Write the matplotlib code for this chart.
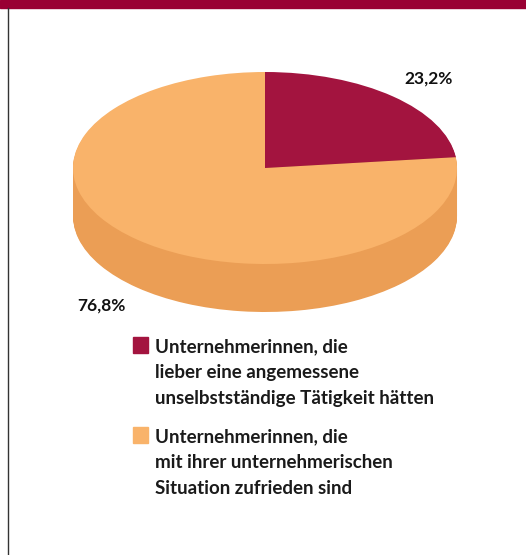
import matplotlib.pyplot as plt
import numpy as np
from matplotlib.patches import Rectangle
from matplotlib.lines import Line2D

plt.rcParams['font.family'] = ['Lato', 'DejaVu Sans']

shares = [23.2, 76.8]
share_labels = ['23,2%', '76,8%']
top_colors = ['#a3143f', '#f9b36a']
side_colors = ['#86102f', '#eb9e55']
legend_labels = [
    'Unternehmerinnen, die\nlieber eine angemessene\nunselbstständige Tätigkeit hätten',
    'Unternehmerinnen, die\nmit ihrer unternehmerischen\nSituation zufrieden sind',
]

W, H = 526, 555
cx, cy, rx, ry = 265, 168, 192, 96   # pie centre / radii in pixels
depth = 0.5                           # side height in y data units

fig = plt.figure(figsize=(W / 100, H / 100), dpi=100)
ax = fig.add_axes([0, 0, 1, 1])

# side of the 3d pie: stack of shifted pies
for d in np.linspace(depth, 0.01, 50):
    ax.pie(shares, colors=side_colors, startangle=90, counterclock=False,
           center=(0, -d), wedgeprops=dict(linewidth=0))
wedges, _ = ax.pie(shares, colors=top_colors, startangle=90, counterclock=False,
                   wedgeprops=dict(linewidth=0))

ax.set_aspect('auto')
ax.set_xlim(-cx / rx, (W - cx) / rx)
ax.set_ylim(-(H - cy) / ry, cy / ry)
ax.axis('off')

# percentage labels
for w, lab in zip(wedges, share_labels):
    th = np.deg2rad((w.theta1 + w.theta2) / 2)
    x, y = 1.28 * np.cos(th), 1.25 * np.sin(th)
    if y < 0:
        y -= depth
    ax.text(x, y, lab, ha='center', va='center', fontsize=12.5,
            fontweight='bold', color='#111111')

# legend
for i, (lab, col) in enumerate(zip(legend_labels, top_colors)):
    ytop = 337 + i * 90
    fig.patches.append(Rectangle((133 / W, 1 - (ytop + 16) / H), 15 / W, 16 / H,
                                 transform=fig.transFigure, color=col))
    fig.text(155 / W, 1 - (ytop + 1) / H, lab, ha='left', va='top',
             fontsize=13.5, fontweight='bold', linespacing=1.63, color='#1a1a1a')

# frame decorations
fig.patches.append(Rectangle((0, 1 - 8 / H), 1, 8 / H, transform=fig.transFigure,
                             color='#990033'))
fig.lines.append(Line2D([7.5 / W, 7.5 / W], [0, 1 - 8 / H], transform=fig.transFigure,
                        color='#333333', lw=1))

fig.savefig('out.png', dpi=100)
